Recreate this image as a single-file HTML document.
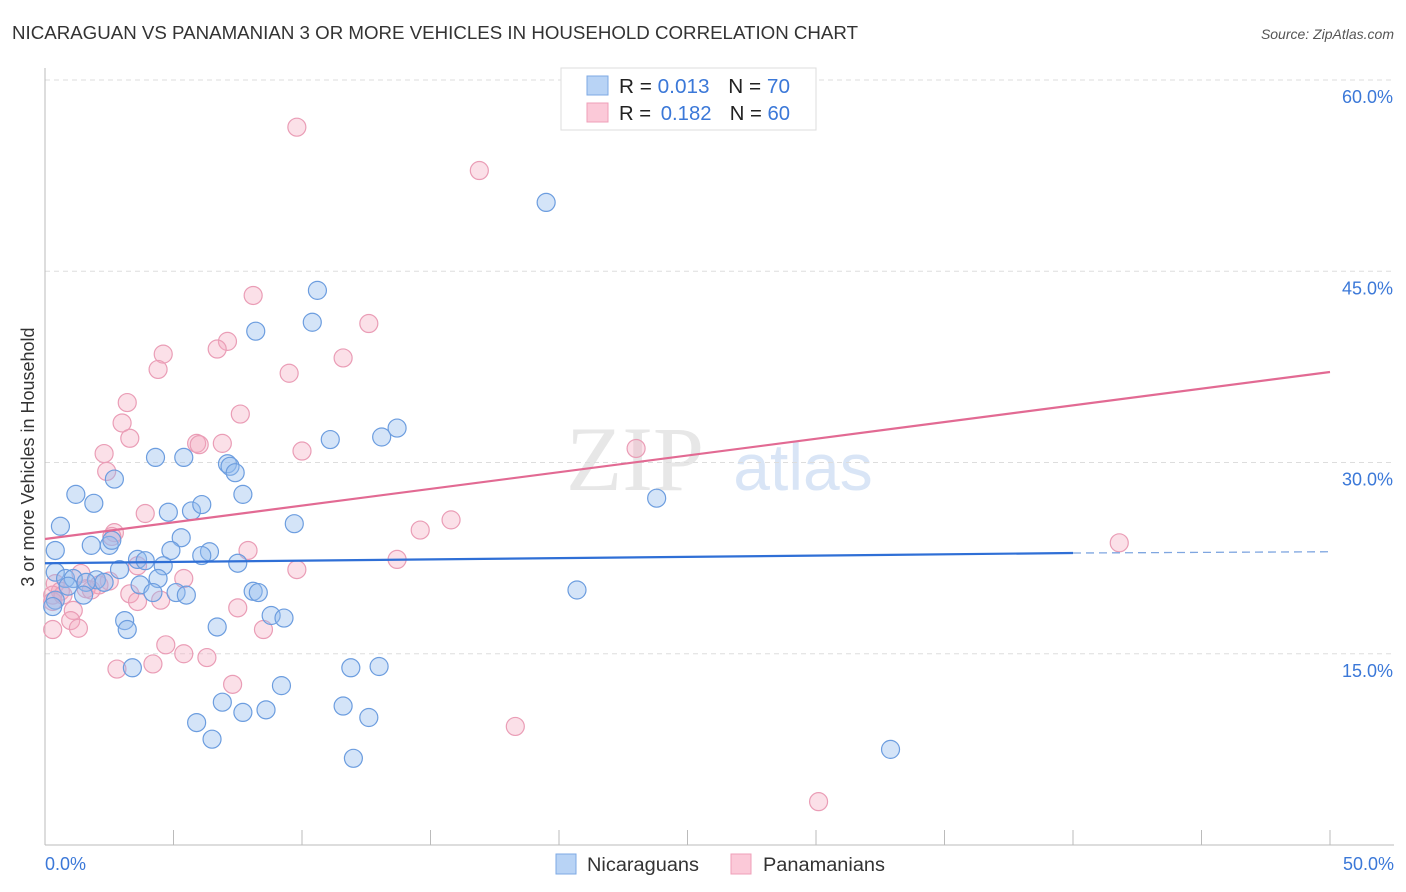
<!DOCTYPE html>
<html><head><meta charset="utf-8">
<style>
body{margin:0;background:#fff;font-family:"Liberation Sans",sans-serif;}
svg{display:block}
</style></head>
<body>
<svg id="chart" width="1406" height="892">
  <text x="12" y="39" font-size="18" fill="#333" textLength="846" lengthAdjust="spacingAndGlyphs">NICARAGUAN VS PANAMANIAN 3 OR MORE VEHICLES IN HOUSEHOLD CORRELATION CHART</text>
  <text x="1394" y="39" font-size="14" fill="#555" font-style="italic" text-anchor="end">Source: ZipAtlas.com</text>
  <g>
    <text x="635" y="490" font-size="92" fill="#ddd" font-family="Liberation Serif" text-anchor="middle" opacity="0.7">ZIP</text>
    <text x="803" y="490" font-size="66" fill="#c9dbf3" text-anchor="middle" opacity="0.7">atlas</text>
  </g>
  <g id="grid"></g>
  <g id="axes"></g>
  <g id="marks"></g>
  <text x="34" y="457" font-size="18" fill="#333" text-anchor="middle" transform="rotate(-90 34 457)">3 or more Vehicles in Household</text>
  <g>
    <rect x="561" y="68" width="255" height="62" fill="#fff" stroke="#ddd"/>
    <rect x="587" y="76" width="21" height="19" fill="#b8d3f5" stroke="#7eaae4"/>
    <rect x="587" y="103" width="21" height="19" fill="#fbc9d8" stroke="#ef9fb8"/>
    <text x="619" y="93" font-size="20" fill="#222" textLength="171" lengthAdjust="spacingAndGlyphs">R = <tspan fill="#3b78d8">0.013</tspan><tspan dx="18">N = </tspan><tspan fill="#3b78d8">70</tspan></text>
    <text x="619" y="120" font-size="20" fill="#222" textLength="171" lengthAdjust="spacingAndGlyphs">R = <tspan fill="#3b78d8" dx="4">0.182</tspan><tspan dx="18">N = </tspan><tspan fill="#3b78d8">60</tspan></text>
  </g>
  <g>
    <rect x="556" y="854" width="20" height="20" fill="#b8d3f5" stroke="#7eaae4"/>
    <text x="587" y="871" font-size="19" fill="#333" textLength="112" lengthAdjust="spacingAndGlyphs">Nicaraguans</text>
    <rect x="731" y="854" width="20" height="20" fill="#fbc9d8" stroke="#ef9fb8"/>
    <text x="763" y="871" font-size="19" fill="#333" textLength="122" lengthAdjust="spacingAndGlyphs">Panamanians</text>
  </g>
</svg>
<script>
const blueX=[19.5,10.6,10.4,8.2,13.7,13.1,11.1,4.3,5.4,7.1,7.2,7.4,2.7,1.2,7.7,1.9,4.8,5.7,6.1,23.8,9.7,0.6,5.3,1.8,2.5,2.6,0.4,6.4,4.9,6.1,3.6,3.9,7.5,4.6,2.9,0.4,0.8,1.1,2.0,2.3,1.6,4.4,3.7,0.9,4.2,5.1,5.5,1.5,8.1,8.3,20.7,0.4,0.3,3.1,8.8,9.3,3.2,6.7,11.9,13.0,3.4,9.2,6.9,5.9,7.7,8.6,11.6,12.6,6.5,12.0,32.9];
const blueY=[50.4,43.5,41.0,40.3,32.7,32.0,31.8,30.4,30.4,29.9,29.7,29.2,28.7,27.5,27.5,26.8,26.1,26.2,26.7,27.2,25.2,25.0,24.1,23.5,23.5,23.9,23.1,23.0,23.1,22.7,22.4,22.3,22.1,21.9,21.6,21.4,20.9,20.9,20.8,20.6,20.6,20.9,20.4,20.3,19.8,19.8,19.6,19.6,19.9,19.8,20.0,19.2,18.7,17.6,18.0,17.8,16.9,17.1,13.9,14.0,13.9,12.5,11.2,9.6,10.4,10.6,10.9,10.0,8.3,6.8,7.5];
const pinkX=[9.8,16.9,8.1,12.6,7.1,6.7,4.6,11.6,4.4,9.5,7.6,3.2,3.0,3.3,5.9,6.9,6.0,10.0,2.3,23.0,2.4,15.8,14.6,3.9,2.7,2.6,7.9,3.6,13.7,9.8,5.4,1.4,2.5,2.1,1.6,0.4,0.6,0.3,0.3,0.7,1.8,3.3,3.6,4.5,7.5,1.1,1.0,1.3,0.3,8.5,4.7,5.4,6.3,4.2,2.8,7.3,18.3,30.1,41.8];
const pinkY=[56.3,52.9,43.1,40.9,39.5,38.9,38.5,38.2,37.3,37.0,33.8,34.7,33.1,31.9,31.5,31.5,31.4,30.9,30.7,31.1,29.3,25.5,24.7,26.0,24.5,24.2,23.1,21.9,22.4,21.6,20.9,21.3,20.7,20.4,20.1,20.5,19.9,19.6,19.1,19.6,20.0,19.7,19.1,19.2,18.6,18.4,17.6,17.0,16.9,16.9,15.7,15.0,14.7,14.2,13.8,12.6,9.3,3.4,23.7];
const blueTrend=[22.1,22.9,23.0];
const pinkTrend=[24.0,37.1];
const yTicks=[15,30,45,60];
const xTicks=[0,5,10,15,20,25,30,35,40,45,50];

const NS="http://www.w3.org/2000/svg";
const sx=v=>45+v*25.7;
const sy=v=>845-v*12.75;
function mk(tag,attrs,parent){const e=document.createElementNS(NS,tag);for(const k in attrs)e.setAttribute(k,attrs[k]);parent.appendChild(e);return e;}
const grid=document.getElementById('grid'),axes=document.getElementById('axes'),marks=document.getElementById('marks');
yTicks.forEach(t=>{
  const l=mk('line',{x1:45,x2:1394,y1:sy(t),y2:sy(t),stroke:'#ddd','stroke-dasharray':'5,4'},grid);
  
  
  const tx=mk('text',{x:1393,y:sy(t)+23,'font-size':18,fill:'#3b78d8','text-anchor':'end'},axes);
  tx.textContent=t.toFixed(1)+'%';
  
  
});
mk('line',{x1:45,x2:45,y1:68,y2:845,stroke:'#bbb'},axes);
mk('line',{x1:45,x2:1394,y1:845,y2:845,stroke:'#bbb'},axes);
xTicks.forEach(t=>{
  const l=mk('line',{x1:sx(t),x2:sx(t),y1:830,y2:845,stroke:'#bbb'},axes);
  
  
});
[[0,'start',45],[50,'end',1394]].forEach(([v,a,x])=>{
  const tx=mk('text',{x:x,y:870,'font-size':18,fill:'#3b78d8','text-anchor':a},axes);
  tx.textContent=v.toFixed(1)+'%';
  
  
});
function pts(X,Y,fill,stroke,name){
  X.forEach((x,i)=>{
    const c=mk('circle',{cx:sx(x),cy:sy(Y[i]),r:9,fill:fill,stroke:stroke,'stroke-width':1.2},marks);
    
    
  });
}
pts(pinkX,pinkY,'rgba(244,167,190,0.35)','#ea9db6','panamanian-point');
pts(blueX,blueY,'rgba(147,187,237,0.4)','#6c9ddf','nicaraguan-point');
let l=mk('line',{x1:sx(0),y1:sy(blueTrend[0]),x2:sx(40),y2:sy(blueTrend[1]),stroke:'#2f6fd6','stroke-width':2.2},marks);


l=mk('line',{x1:sx(40),y1:sy(blueTrend[1]),x2:sx(50),y2:sy(blueTrend[2]),stroke:'#7fa6e0','stroke-width':1.3,'stroke-dasharray':'8,5'},marks);


l=mk('line',{x1:sx(0),y1:sy(pinkTrend[0]),x2:sx(50),y2:sy(pinkTrend[1]),stroke:'#e26a93','stroke-width':2.2},marks);


</script>
</body></html>
